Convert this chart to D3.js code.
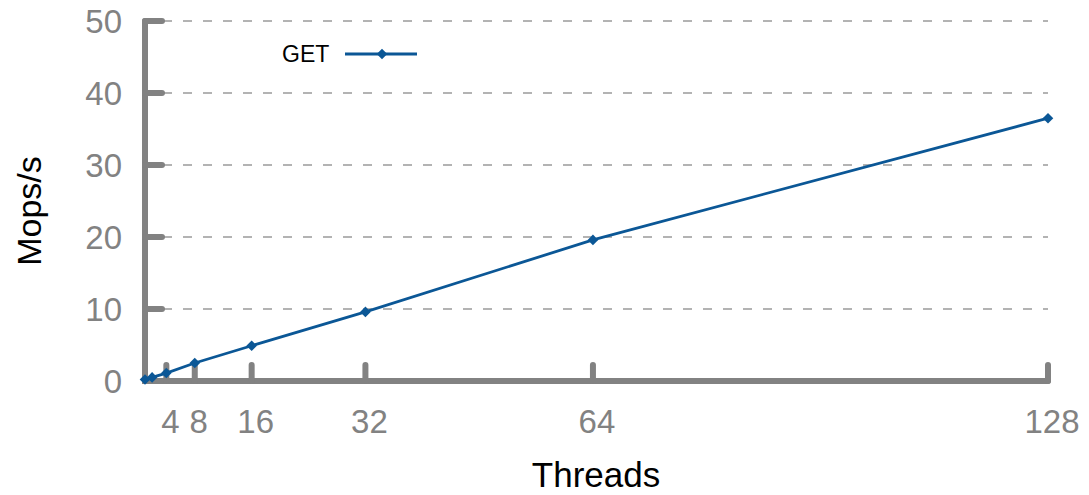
<!DOCTYPE html>
<html>
<head>
<meta charset="utf-8">
<script src="https://cdn.jsdelivr.net/npm/d3@7"></script>
<style>
  body { margin: 0; background: #fff; }
  text { font-family: "Liberation Sans", Arial, Helvetica, sans-serif; }
</style>
</head>
<body>
<div id="chart"></div>
<script>
// Data.
let threads = [1, 2, 4, 8, 16, 32, 64, 128];
let getMops = [0.2, 0.5, 1.1, 2.5, 4.9, 9.6, 19.6, 36.5];
let xTicks = [4, 8, 16, 32, 64, 128];
let yTicks = [0, 10, 20, 30, 40, 50];

let width = 1089, height = 495;
let plotLeft = 145, plotRight = 1048, plotTop = 21, plotBottom = 381;
let axisGrey = "#828282";
let lineBlue = "#0b5796";

let x = d3.scaleLinear().domain([1, 128]).range([plotLeft, plotRight]);
let y = d3.scaleLinear().domain([0, 50]).range([plotBottom, plotTop]);

let svg = d3.select("#chart")
  .append("svg")
    .attr("width", width)
    .attr("height", height);

// Dashed gridlines.
svg.selectAll(".grid")
  .data(yTicks.filter(d => d > 0))
  .enter()
  .append("line")
    .attr("x1", plotLeft + 18)
    .attr("x2", plotRight)
    .attr("y1", d => y(d))
    .attr("y2", d => y(d))
    .attr("stroke", "#9a9a9a")
    .attr("stroke-width", 1.5)
    .attr("stroke-dasharray", "9,11");

// Axis lines and inward ticks, drawn thick with round caps.
let axes = svg.append("g")
  .attr("stroke", axisGrey)
  .attr("stroke-width", 6)
  .attr("stroke-linecap", "round")
  .attr("fill", "none");

axes.append("path")
  .attr("d", "M" + x(1) + "," + y(50) + "V" + y(0) + "H" + x(128));

axes.selectAll(".ytick")
  .data(yTicks.filter(d => d > 0))
  .enter()
  .append("line")
    .attr("x1", plotLeft)
    .attr("x2", plotLeft + 17)
    .attr("y1", d => y(d))
    .attr("y2", d => y(d));

axes.selectAll(".xtick")
  .data(xTicks)
  .enter()
  .append("line")
    .attr("x1", d => x(d))
    .attr("x2", d => x(d))
    .attr("y1", y(0))
    .attr("y2", y(0) - 16);

// Tick labels.
svg.selectAll(".ylabel")
  .data(yTicks)
  .enter()
  .append("text")
    .attr("x", 122)
    .attr("y", d => y(d) + 12)
    .attr("text-anchor", "end")
    .attr("fill", axisGrey)
    .style("font-size", "33px")
    .text(d => d);

svg.selectAll(".xlabel")
  .data(xTicks)
  .enter()
  .append("text")
    .attr("x", d => x(d) + 4)
    .attr("y", 433)
    .attr("text-anchor", "middle")
    .attr("fill", axisGrey)
    .style("font-size", "33px")
    .text(d => d);

// Axis titles.
svg.append("text")
  .attr("x", 596)
  .attr("y", 487)
  .attr("text-anchor", "middle")
  .attr("fill", "black")
  .style("font-size", "35px")
  .text("Threads");

svg.append("text")
  .attr("transform", "translate(41,211) rotate(-90)")
  .attr("text-anchor", "middle")
  .attr("fill", "black")
  .style("font-size", "34px")
  .text("Mops/s");

// The GET series.
let line = d3.line()
  .x((d, i) => x(threads[i]))
  .y(d => y(d));

svg.append("path")
  .datum(getMops)
  .attr("d", line)
  .attr("fill", "none")
  .attr("stroke", lineBlue)
  .attr("stroke-width", 2.8);

// Square markers turned 45 degrees give the even diamonds of the reference.
let diamond = d3.symbol().type(d3.symbolSquare).size(56);

svg.selectAll(".pt")
  .data(getMops)
  .enter()
  .append("path")
    .attr("d", diamond)
    .attr("transform", (d, i) => "translate(" + x(threads[i]) + "," + y(d) + ") rotate(45)")
    .attr("fill", lineBlue);

// Legend.
svg.append("text")
  .attr("x", 282)
  .attr("y", 62)
  .attr("fill", "black")
  .style("font-size", "23px")
  .text("GET");

svg.append("line")
  .attr("x1", 345)
  .attr("x2", 417)
  .attr("y1", 54)
  .attr("y2", 54)
  .attr("stroke", lineBlue)
  .attr("stroke-width", 2.8);

svg.append("path")
  .attr("d", diamond)
  .attr("transform", "translate(382,54) rotate(45)")
  .attr("fill", lineBlue);
</script>
</body>
</html>
